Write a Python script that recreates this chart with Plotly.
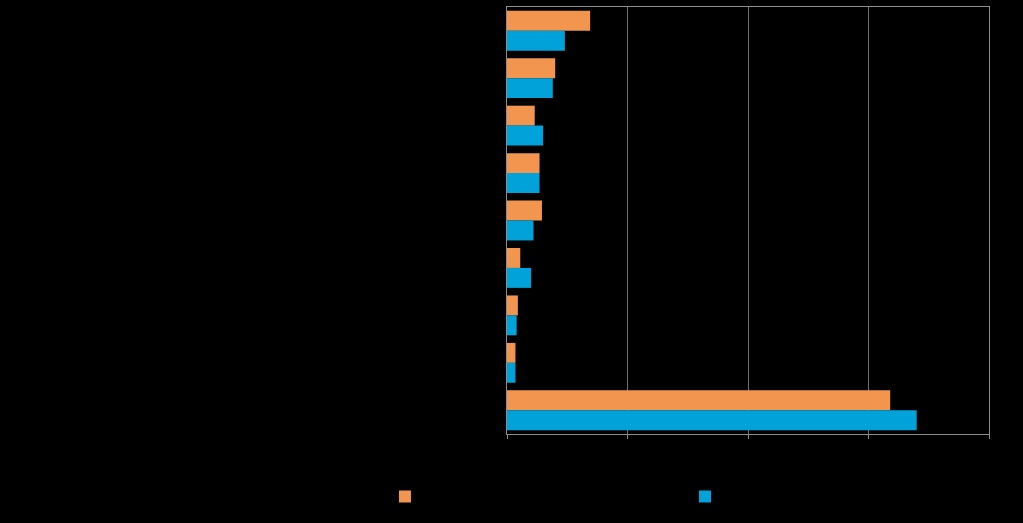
import plotly.graph_objects as go

# categories, top to bottom (labels are drawn black on black in the source)
categories = [
    "Luokka 1", "Luokka 2", "Luokka 3", "Luokka 4", "Luokka 5",
    "Luokka 6", "Luokka 7", "Luokka 8", "Luokka 9",
]
series_names = ["Sarja A", "Sarja B"]
orange_values = [6.9, 4.0, 2.3, 2.7, 2.9, 1.1, 0.9, 0.7, 31.8]
blue_values = [4.8, 3.8, 3.0, 2.7, 2.2, 2.0, 0.8, 0.7, 34.0]
x_ticks = [0, 10, 20, 30, 40]

fig = go.Figure()
fig.add_trace(go.Bar(
    y=categories, x=orange_values, name=series_names[0],
    orientation="h", marker=dict(color="#f2964f", line=dict(width=0)),
    legend="legend", showlegend=True,
))
fig.add_trace(go.Bar(
    y=categories, x=blue_values, name=series_names[1],
    orientation="h", marker=dict(color="#00a3d9", line=dict(width=0)),
    legend="legend2", showlegend=True,
))

leg = dict(
    orientation="h", xref="container", yref="container",
    xanchor="left", yanchor="top", y=0.0784,
    font=dict(color="black"), itemclick=False, bgcolor="rgba(0,0,0,0)",
)

fig.update_layout(
    width=1023, height=523, showlegend=True,
    margin=dict(l=507, r=34, t=7, b=89, autoexpand=False),
    paper_bgcolor="black", plot_bgcolor="black",
    font=dict(family="Liberation Sans", size=12, color="black"),
    barmode="group", bargap=0.16, bargroupgap=0,
    legend=dict(leg, x=0.3763),
    legend2=dict(leg, x=0.6696),
    xaxis=dict(
        range=[0, 40], tickvals=x_ticks, showgrid=True,
        gridcolor="#6e6e6e", gridwidth=1, zeroline=False,
        showline=True, linecolor="#8c8c8c", mirror=True,
        ticks="outside", ticklen=4, tickcolor="#8c8c8c",
        tickfont=dict(color="black"),
    ),
    yaxis=dict(
        autorange="reversed", showgrid=False, zeroline=False,
        showline=True, linecolor="#8c8c8c", mirror=True,
        ticks="", tickfont=dict(color="black"),
    ),
)

fig.write_html(
    "out.html",
    config=dict(responsive=False, displayModeBar=False),
    post_script="document.body.style.margin='0';",
)
